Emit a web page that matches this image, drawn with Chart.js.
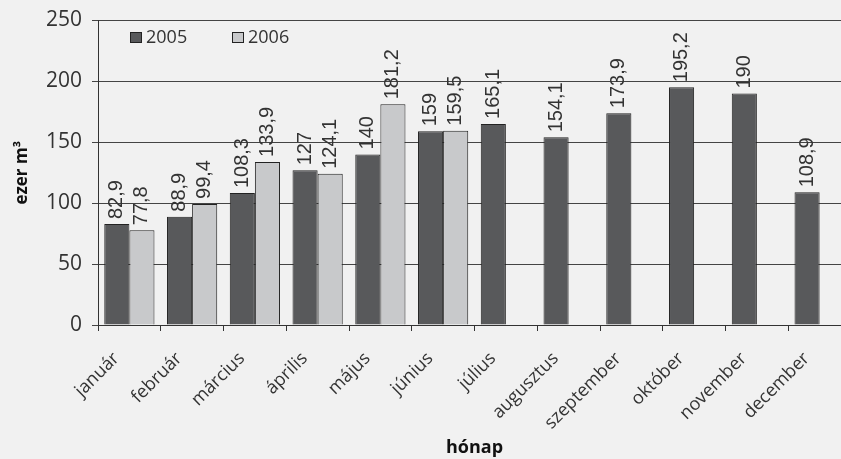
<!DOCTYPE html>
<html>
<head>
<meta charset="utf-8">
<script src="https://cdn.jsdelivr.net/npm/chart.js@4.4.1/dist/chart.umd.min.js"></script>
<style>
  body { margin: 0; background: #f1f1f1; overflow: hidden; }
  #wrap { width: 841px; height: 459px; overflow: hidden; }
</style>
</head>
<body>
<div id="wrap"><canvas id="myChart" width="860" height="459"></canvas></div>
<script>
const honapok = ['január', 'február', 'március', 'április', 'május', 'június',
  'július', 'augusztus', 'szeptember', 'október', 'november', 'december']
const ev2005 = [82.9, 88.9, 108.3, 127, 140, 159, 165.1, 154.1, 173.9, 195.2, 190, 108.9]
const ev2006 = [77.8, 99.4, 133.9, 124.1, 181.2, 159.5, null, null, null, null, null, null]
const yTicks = [0, 50, 100, 150, 200, 250]

const sotet = '#58595b'
const vilagos = '#c8c9cb'
const szoveg = '#333333'
const betu = '"Open Sans", sans-serif'

// felirat az oszlopok folott, fuggolegesen
const ertekFelirat = {
  id: 'ertekFelirat',
  afterDatasetsDraw(chart) {
    const ctx = chart.ctx
    ctx.save()
    ctx.font = '20px "Liberation Sans Narrow", "Liberation Sans", sans-serif'
    ctx.fillStyle = szoveg
    ctx.textAlign = 'left'
    ctx.textBaseline = 'middle'
    chart.data.datasets.forEach((ds, i) => {
      chart.getDatasetMeta(i).data.forEach((bar, j) => {
        const v = ds.data[j]
        if (v === null) return
        ctx.save()
        ctx.translate(bar.x, bar.y - 5)
        ctx.rotate(-Math.PI / 2)
        ctx.fillText(String(v).replace('.', ','), 0, 0)
        ctx.restore()
      })
    })
    ctx.restore()
  }
}

// jelmagyarazat a rajzteruleten belul
const jelmagyarazat = {
  id: 'jelmagyarazat',
  afterDraw(chart) {
    const ctx = chart.ctx
    ctx.save()
    ctx.font = '18px ' + betu
    ctx.textBaseline = 'middle'
    const x0 = [130, 232]
    chart.data.datasets.forEach((ds, i) => {
      ctx.fillStyle = ds.backgroundColor
      ctx.fillRect(x0[i], 32, 12, 11)
      ctx.strokeStyle = '#222'
      ctx.lineWidth = 1
      ctx.strokeRect(x0[i] + 0.5, 32.5, 11, 10)
      ctx.fillStyle = szoveg
      ctx.fillText(ds.label, x0[i] + 16, 38)
    })
    ctx.restore()
  }
}

const config = {
  type: 'bar',
  data: {
    labels: honapok,
    datasets: [
      { label: '2005', data: ev2005, backgroundColor: sotet, borderColor: '#222', borderWidth: 1 },
      { label: '2006', data: ev2006, backgroundColor: vilagos, borderColor: '#222', borderWidth: 1 }
    ]
  },
  options: {
    responsive: false,
    animation: false,
    layout: { padding: { top: 18, right: 9, left: 0, bottom: 0 } },
    categoryPercentage: 0.8,
    barPercentage: 1.0,
    plugins: { legend: { display: false }, tooltip: { enabled: false } },
    scales: {
      x: {
        grid: { offset: true, drawOnChartArea: false, drawTicks: true, tickLength: 6, color: szoveg },
        border: { color: szoveg, width: 1 },
        ticks: { color: szoveg, font: { family: 'Open Sans', size: 18 }, minRotation: 45, maxRotation: 45, padding: 17, labelOffset: -13 },
        title: { display: true, text: 'hónap', color: '#111', font: { family: 'Open Sans', size: 18, weight: 'bold' }, padding: { top: 0, bottom: 0 } },
        afterFit(scale) { scale.height = 134 }
      },
      y: {
        min: 0,
        max: 250,
        afterBuildTicks(scale) { scale.ticks = yTicks.map(v => ({ value: v })) },
        grid: { color: '#444', tickLength: 6 },
        border: { color: szoveg, width: 1 },
        ticks: { color: szoveg, font: { family: 'Open Sans', size: 21, lineHeight: 1 }, padding: 10 },
        title: { display: true, text: 'ezer m³', color: '#111', font: { family: 'Open Sans', size: 17, weight: 'bold' }, padding: { top: 12, bottom: 0 } },
        afterFit(scale) { scale.width = 98 }
      }
    }
  },
  plugins: [ertekFelirat, jelmagyarazat]
}

const grafico = document.querySelector('#myChart')
new Chart(grafico, config)
</script>
</body>
</html>
